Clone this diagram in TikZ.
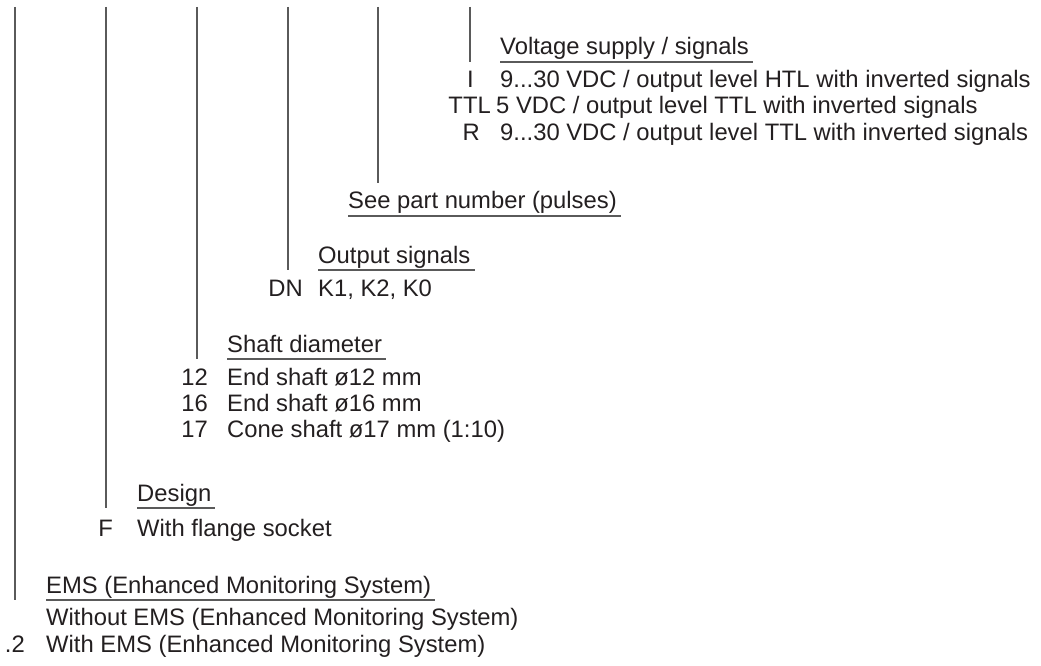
\documentclass[tikz,border=0pt]{standalone}
\usepackage{fontspec}
\setmainfont{Liberation Sans}
\usepackage{tikz}
\usetikzlibrary{calc}
\definecolor{cText}{HTML}{231F20}
\definecolor{cRule}{HTML}{5A5A5A}
\tikzset{
  head/.style ={anchor=base west, inner sep=0pt, text=cText, font=\fontsize{23.8}{26}\selectfont},
  item/.style ={anchor=base west, inner sep=0pt, text=cText, font=\fontsize{23.8}{26}\selectfont},
  code/.style ={anchor=base east, inner sep=0pt, text=cText, font=\fontsize{23.8}{26}\selectfont},
  lead/.style ={draw=cRule, line width=1.1pt},
  uline/.style={draw=cRule, line width=1.1pt},
}

\begin{document}
\begin{tikzpicture}[x=1pt, y=-1pt]
  \useasboundingbox (0,0) rectangle (1041,666);
  % tops of the leader lines
  \coordinate (t1) at (15,7);  \coordinate (t2) at (106,7);
  \coordinate (t3) at (197,7); \coordinate (t4) at (288,7);
  \coordinate (t5) at (378,7); \coordinate (t6) at (470,7);
  \coordinate (b5) at (378,183);

  % voltage supply
  \node[head] (hv) at (500,55) {Voltage supply / signals};
  \node[code] (cI) at (474,88) {I};
  \node[item] (vI) at (500,88) {9...30 VDC / output level HTL with inverted signals};
  \node[code] (cT) at (491,114) {TTL};
  \node[item] (vT) at (496,114) {5 VDC / output level TTL with inverted signals};
  \node[code] (cR) at (480,140) {R};
  \node[item] (vR) at (500,140) {9...30 VDC / output level TTL with inverted signals};

  % pulses
  \node[head] (hp) at (348,208) {See part number (pulses)};

  % output signals
  \node[head] (ho) at (318,263) {Output signals};
  \node[code] (cD) at (303,296) {DN};
  \node[item] (vD) at (318,296) {K1, K2, K0};

  % shaft
  \node[head] (hs) at (227,352) {Shaft diameter};
  \node[code] (c12) at (208,385) {12};
  \node[item] (v12) at (227,385) {End shaft ø12 mm};
  \node[code] (c16) at (208,411) {16};
  \node[item] (v16) at (227,411) {End shaft ø16 mm};
  \node[code] (c17) at (208,437) {17};
  \node[item] (v17) at (227,437) {Cone shaft ø17 mm (1:10)};

  % design
  \node[head] (hd) at (137,501) {Design};
  \node[code] (cF) at (113,536) {F};
  \node[item] (vF) at (137,536) {With flange socket};

  % EMS
  \node[head] (he) at (46,593) {EMS (Enhanced Monitoring System)};
  \node[item] (v0) at (46,625) {Without EMS (Enhanced Monitoring System)};
  \node[code] (c2) at (25,652) {.2};
  \node[item] (v2) at (46,652) {With EMS (Enhanced Monitoring System)};

  % underlines
  \draw[uline] ([yshift=-7pt]hv.base west) coordinate (uv) -- ([xshift=4pt,yshift=-7pt]hv.base east);
  \draw[uline] ([yshift=-8pt]hp.base west) -- ([xshift=4pt,yshift=-8pt]hp.base east);
  \draw[uline] ([yshift=-7pt]ho.base west) coordinate (uo) -- ([xshift=4pt,yshift=-7pt]ho.base east);
  \draw[uline] ([yshift=-7pt]hs.base west) coordinate (us) -- ([xshift=4pt,yshift=-7pt]hs.base east);
  \draw[uline] ([yshift=-7pt]hd.base west) coordinate (ud) -- ([xshift=4pt,yshift=-7pt]hd.base east);
  \draw[uline] ([yshift=-7pt]he.base west) coordinate (ue) -- ([xshift=4pt,yshift=-7pt]he.base east);

  % leader lines
  \draw[lead] (t1) -- (t1 |- ue);
  \draw[lead] (t2) -- (t2 |- ud);
  \draw[lead] (t3) -- (t3 |- us);
  \draw[lead] (t4) -- (t4 |- uo);
  \draw[lead] (t5) -- (b5);
  \draw[lead] (t6) -- (t6 |- uv);
\end{tikzpicture}
\end{document}
